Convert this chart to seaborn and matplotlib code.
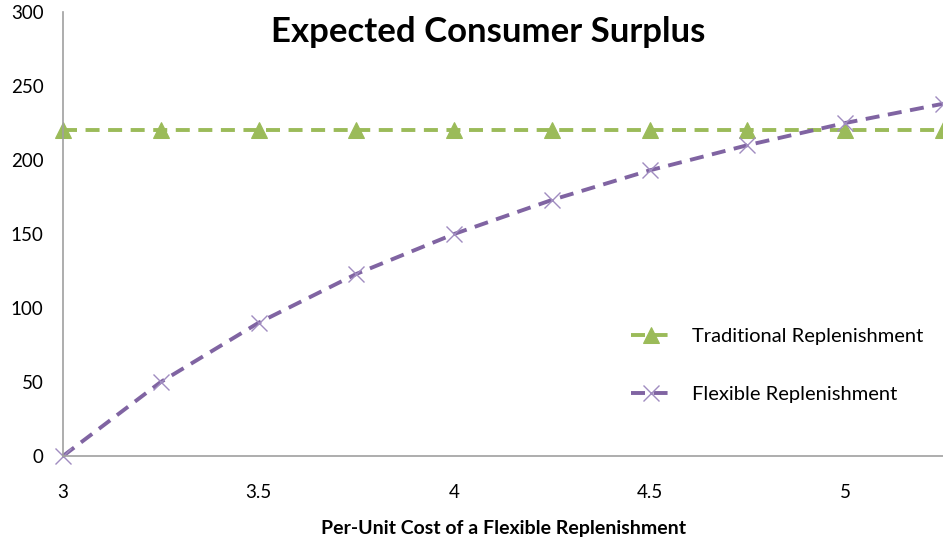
import matplotlib
matplotlib.use("Agg")
import matplotlib.pyplot as plt
import seaborn as sns
import pandas as pd

cost = [3.0, 3.25, 3.5, 3.75, 4.0, 4.25, 4.5, 4.75, 5.0, 5.25]
traditional = [220, 220, 220, 220, 220, 220, 220, 220, 220, 220]
flexible = [0, 50, 90, 123, 150, 173, 193, 210, 225, 238]
x_ticks = [3, 3.5, 4, 4.5, 5]
y_ticks = [0, 50, 100, 150, 200, 250, 300]

sns.set_style("white")
plt.rcParams['font.family'] = ['Lato', 'DejaVu Sans']
plt.rcParams['text.color'] = 'black'

fig = plt.figure(figsize=(9.43, 5.46), dpi=100)
ax = fig.add_axes([63/943, 90/546, 1 - 63/943, 444/546])

green = "#9BBB59"
purple = "#8064A2"

df_t = pd.DataFrame({"cost": cost, "value": traditional})
df_f = pd.DataFrame({"cost": cost, "value": flexible})

sns.lineplot(data=df_t, x="cost", y="value", ax=ax, color=green, lw=2.8,
             linestyle=(0, (3.6, 2.2)), marker="^", markersize=11,
             markeredgecolor=green, markerfacecolor=green,
             label="Traditional Replenishment", clip_on=False)
sns.lineplot(data=df_f, x="cost", y="value", ax=ax, color=purple, lw=2.8,
             linestyle=(0, (3.6, 2.2)), marker="x", markersize=11,
             markeredgecolor="#A08CC0", markeredgewidth=1.0,
             label="Flexible Replenishment", clip_on=False)

ax.set_xlim(3, 5.25)
ax.set_ylim(0, 300)
ax.set_xticks(x_ticks)
ax.set_xticklabels([f"{t:g}" for t in x_ticks])
ax.set_yticks(y_ticks)

for s in ["top", "right"]:
    ax.spines[s].set_visible(False)
for s in ["left", "bottom"]:
    ax.spines[s].set_color("#A0A0A0")
    ax.spines[s].set_linewidth(1.2)

ax.tick_params(axis="both", which="major", direction="out", length=6,
               color="#A0A0A0", width=1.2, labelsize=13.5, labelcolor="black")
ax.tick_params(axis="x", pad=14)
ax.tick_params(axis="y", pad=8)

ax.set_xlabel("Per-Unit Cost of a Flexible Replenishment", fontsize=14,
              fontweight="bold", color="black")
ax.set_ylabel("")
ax.xaxis.set_label_coords((504 - 63) / 880, -64 / 444)

fig.text(488/943, 1 - 32/546, "Expected Consumer Surplus", fontsize=25,
         fontweight="bold", ha="center", va="center", color="black")

leg = ax.legend(loc="center left", bbox_to_anchor=(0.625, 0.204), frameon=False,
                fontsize=14.5, labelspacing=2.05, handlelength=2.0,
                handletextpad=1.0)
for t in leg.get_texts():
    t.set_color("black")

fig.savefig("out.png", dpi=100)
